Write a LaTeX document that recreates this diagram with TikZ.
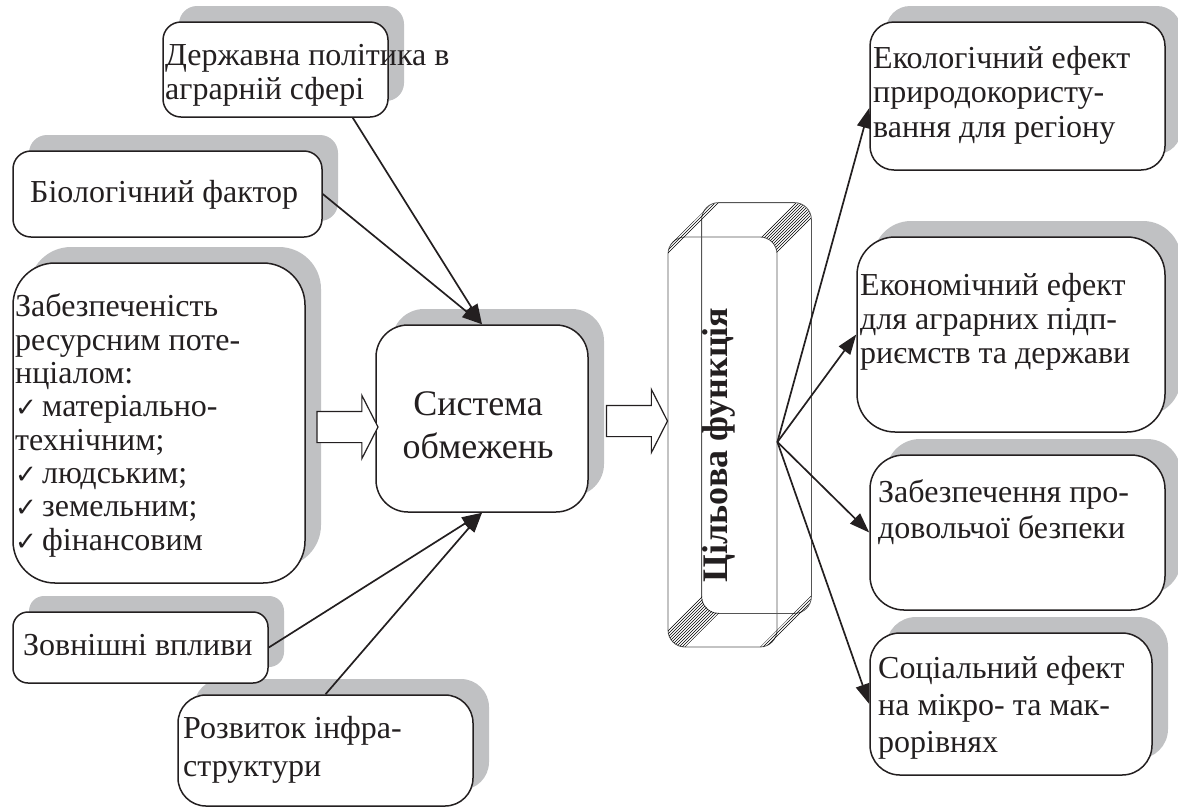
\documentclass[tikz,border=0pt]{standalone}
\usepackage{fontspec}
\setmainfont{Liberation Serif}
\newfontfamily\checkfont{DejaVu Sans}
\usetikzlibrary{arrows.meta,shapes.arrows,patterns,calc}

\definecolor{col_c0c1c3}{RGB}{192,193,195}
\definecolor{col_231f20}{RGB}{35,31,32}
\definecolor{col_555555}{RGB}{85,85,85}
\tikzset{
  panel/.style={rectangle, draw=col_231f20, line width=1.5pt, fill=white, inner sep=0pt},
  txt/.style={anchor=base west, inner sep=0pt, align=left, text=col_231f20, font=\fontsize{32}{34.5}\selectfont},
  link/.style={draw=col_231f20, line width=1.7pt, -{Triangle[length=20pt,width=14pt]}},
  hollow/.style={single arrow, draw=col_231f20, line width=1.2pt, fill=white, minimum height=61pt,
    inner xsep=0pt, inner ysep=15pt, single arrow head extend=16pt, single arrow tip angle=126},
  frame/.style={draw=col_555555, line width=0.8pt, rounded corners=17pt}
}
\newcommand{\tikzdrawpanel}[6]{%
\fill[col_c0c1c3, rounded corners=#6pt] (#2+16,#3-16) rectangle (#4+16,#5-16);
\node[panel, rounded corners=#6pt, minimum width=#4-#2, minimum height=#5-#3] (#1) at ({(#2+#4)/2},{(#3+#5)/2}) {};
}
\newcommand{\chk}{\makebox[27pt][l]{\checkfont\fontsize{26}{26}\selectfont ✓}}

\begin{document}
\begin{tikzpicture}[x=1pt,y=-1pt]
\useasboundingbox (0,0) rectangle (1178,807);
%% left column
\tikzdrawpanel{pol}{163}{22}{388}{117}{18}
\tikzdrawpanel{bio}{13}{151}{322}{237}{18}
\tikzdrawpanel{res}{13}{263}{305}{583}{42}
\tikzdrawpanel{inf}{178}{695}{473}{806}{28}
\tikzdrawpanel{ext}{13}{612}{268}{683}{15}
\tikzdrawpanel{sys}{376}{325}{588}{512}{32}
%% right column
\tikzdrawpanel{eco}{870}{22}{1165}{170}{24}
\tikzdrawpanel{econ}{857}{237}{1165}{432}{38}
\tikzdrawpanel{food}{870}{455}{1165}{610}{34}
\tikzdrawpanel{soc}{870}{633}{1152}{775}{30}

%% texts, placed at the baseline of their last line
\node[txt, font=\fontsize{32}{34}\selectfont] (pol-t) at (165,99) {Державна політика в\\аграрній сфері};
\node[txt] (bio-t) at (30,202) {Біологічний фактор};
\node[txt, font=\fontsize{32}{33.3}\selectfont] (res-t) at (15,550) {Забезпеченість\\ресурсним поте-\\нціалом:\\\chk матеріально-\\технічним;\\\chk людським;\\\chk земельним;\\\chk фінансовим};
\node[txt] (ext-t) at (23,655) {Зовнішні впливи};
\node[txt, font=\fontsize{32}{38}\selectfont] (inf-t) at (183,776) {Розвиток інфра-\\структури};
\node[txt, anchor=base, align=center, font=\fontsize{36}{43}\selectfont] (sys-t) at (478,458) {Система\\обмежень};
\node[txt] (eco-t) at (873,137) {Екологічний ефект\\природокористу-\\вання для регіону};
\node[txt, font=\fontsize{32}{34}\selectfont] (econ-t) at (860,363) {Економічний ефект\\для аграрних підп-\\риємств та держави};
\node[txt, font=\fontsize{32}{36}\selectfont] (food-t) at (878,538) {Забезпечення про-\\довольчої безпеки};
\node[txt, font=\fontsize{32}{37}\selectfont] (soc-t) at (878,752) {Соціальний ефект\\на мікро- та мак-\\рорівнях};

%% target function block
\node[frame, rectangle, minimum width=109, minimum height=410, inner sep=0pt] (goal) at (722.5,442) {};
\draw[frame] ($(goal.south west)+(34,-34)$) rectangle ($(goal.north east)+(34,-34)$);
\fill[pattern=north east lines] (760,237) arc[start angle=-90, end angle=0, radius=17] -- (811,220) arc[start angle=0, end angle=-90, radius=17] -- cycle;     %% top right
\fill[pattern=north east lines] (668,630) arc[start angle=180, end angle=90, radius=17] -- (719,613) arc[start angle=90, end angle=180, radius=17] -- cycle;     %% bottom left
\fill[pattern=north east lines] (668,254) arc[start angle=180, end angle=225, radius=17] -- (707,208) arc[start angle=225, end angle=270, radius=17] -- cycle;     %% top left
\fill[pattern=north east lines] (760,647) arc[start angle=90, end angle=45, radius=17] -- (806,608) arc[start angle=45, end angle=0, radius=17] -- cycle;     %% bottom right
\node[rotate=90, inner sep=0pt, text=col_231f20, font=\fontsize{36}{36}\selectfont\bfseries] (goal-t) at (719,445) {Цільова функція};

%% hollow arrows
\node[hollow] (res-sys) at (343.5,427) {};
\node[hollow] (sys-goal) at (633,421) {};

%% connectors
\draw[link] ($(pol.south east)+(-36,0)$) -- (sys.north);
\draw[link] (bio.east) -- (sys.north);
\draw[link] (ext.east) -- (sys.south);
\draw[link] (inf.north) -- (sys.south);
\draw[link] (goal.east) -- ($(eco.west)+(0,12)$);
\draw[link] (goal.east) -- (econ.west);
\draw[link] (goal.east) -- (food.west);
\draw[link] (goal.east) -- (soc.west);
\end{tikzpicture}
\end{document}
